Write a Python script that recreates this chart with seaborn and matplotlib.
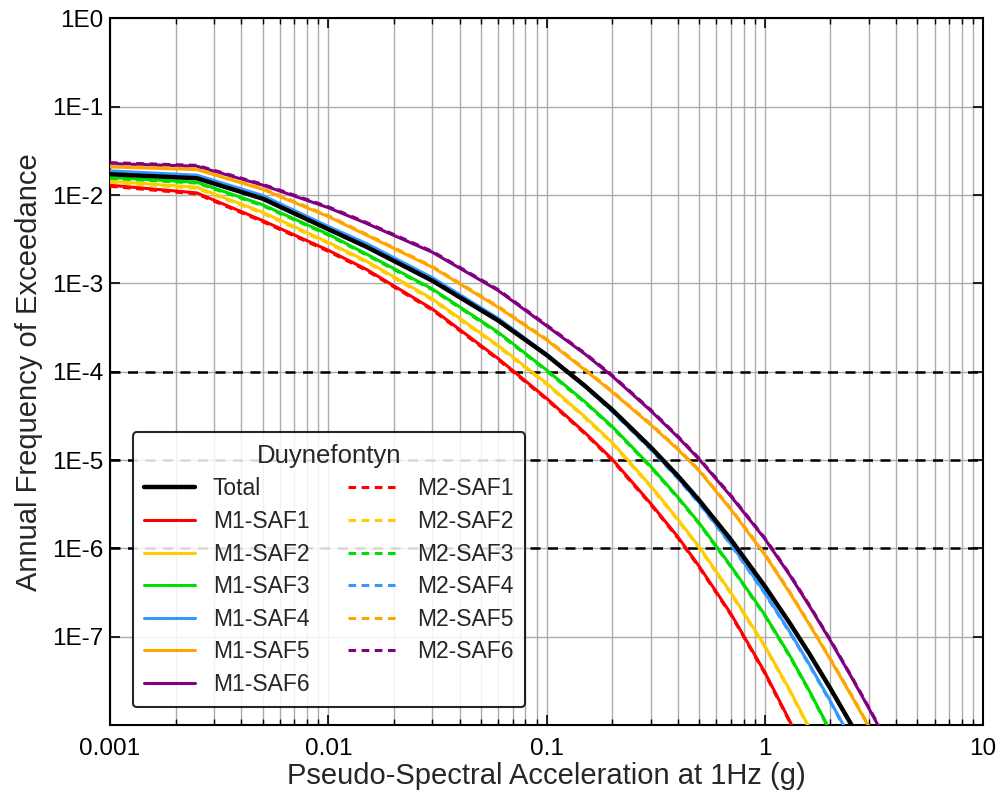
import numpy as np
import pandas as pd
import matplotlib
matplotlib.use("Agg")
import matplotlib.pyplot as plt
from matplotlib.ticker import FixedLocator, FixedFormatter, LogLocator, NullLocator
import seaborn as sns

# Pseudo-spectral acceleration levels (g)
psa = [0.001, 0.0025, 0.005, 0.01, 0.015, 0.03, 0.06, 0.1, 0.15, 0.2, 0.3,
       0.4, 0.5, 0.7, 1.0, 1.3, 1.6, 2.0, 2.5, 3.0, 4.0]

# log10 of the annual frequency of exceedance for each logic-tree branch
total_log10 = [-1.765, -1.810, -2.041, -2.387, -2.588, -2.970, -3.420, -3.810, -4.160, -4.430, -4.853,
               -5.179, -5.453, -5.901, -6.426, -6.843, -7.191, -7.586, -7.999, -8.350, -8.931]

m1_saf1_log10 = [-1.889, -1.976, -2.289, -2.625, -2.843, -3.290, -3.850, -4.300, -4.690, -4.990, -5.490,
                 -5.870, -6.200, -6.740, -7.400, -7.950, -8.405, -8.910, -9.430, -9.860, -10.550]
m1_saf2_log10 = [-1.844, -1.912, -2.194, -2.535, -2.749, -3.176, -3.702, -4.130, -4.510, -4.800, -5.290,
                 -5.670, -5.980, -6.500, -7.100, -7.600, -8.030, -8.510, -9.000, -9.410, -10.070]
m1_saf3_log10 = [-1.802, -1.855, -2.110, -2.443, -2.670, -3.063, -3.552, -3.980, -4.340, -4.620, -5.070,
                 -5.420, -5.710, -6.200, -6.750, -7.210, -7.610, -8.070, -8.560, -8.970, -9.620]
m1_saf4_log10 = [-1.727, -1.775, -2.005, -2.355, -2.550, -2.935, -3.395, -3.800, -4.160, -4.440, -4.870,
                 -5.200, -5.480, -5.950, -6.500, -6.940, -7.310, -7.730, -8.170, -8.540, -9.160]
m1_saf5_log10 = [-1.682, -1.712, -1.935, -2.244, -2.455, -2.818, -3.270, -3.640, -3.980, -4.230, -4.600,
                 -4.880, -5.120, -5.560, -6.070, -6.500, -6.860, -7.260, -7.670, -8.020, -8.620]
m1_saf6_log10 = [-1.644, -1.674, -1.888, -2.143, -2.322, -2.648, -3.080, -3.480, -3.800, -4.050, -4.440,
                 -4.740, -4.990, -5.410, -5.890, -6.300, -6.650, -7.045, -7.460, -7.810, -8.380]

m2_saf1_log10 = [-1.901, -1.988, -2.301, -2.637, -2.855, -3.302, -3.862, -4.312, -4.702, -5.002, -5.502,
                 -5.882, -6.212, -6.752, -7.412, -7.962, -8.417, -8.922, -9.442, -9.872, -10.562]
m2_saf2_log10 = [-1.856, -1.924, -2.206, -2.547, -2.761, -3.188, -3.714, -4.142, -4.522, -4.812, -5.302,
                 -5.682, -5.992, -6.512, -7.112, -7.612, -8.042, -8.522, -9.012, -9.422, -10.082]
m2_saf3_log10 = [-1.812, -1.865, -2.120, -2.453, -2.680, -3.073, -3.562, -3.990, -4.350, -4.630, -5.080,
                 -5.430, -5.720, -6.210, -6.760, -7.220, -7.620, -8.080, -8.570, -8.980, -9.630]
m2_saf4_log10 = [-1.737, -1.785, -2.015, -2.365, -2.560, -2.945, -3.405, -3.810, -4.170, -4.450, -4.880,
                 -5.210, -5.490, -5.960, -6.510, -6.950, -7.320, -7.740, -8.180, -8.550, -9.170]
m2_saf5_log10 = [-1.672, -1.702, -1.925, -2.234, -2.445, -2.808, -3.260, -3.630, -3.970, -4.220, -4.590,
                 -4.870, -5.110, -5.550, -6.060, -6.490, -6.850, -7.250, -7.660, -8.010, -8.610]
m2_saf6_log10 = [-1.634, -1.664, -1.878, -2.133, -2.312, -2.638, -3.070, -3.470, -3.790, -4.040, -4.430,
                 -4.730, -4.980, -5.400, -5.880, -6.290, -6.640, -7.035, -7.450, -7.800, -8.370]

saf_colors = ["#FF0000", "#FFCC00", "#00DD00", "#3399FF", "#FFA500", "#800080"]
m1_series = [m1_saf1_log10, m1_saf2_log10, m1_saf3_log10,
             m1_saf4_log10, m1_saf5_log10, m1_saf6_log10]
m2_series = [m2_saf1_log10, m2_saf2_log10, m2_saf3_log10,
             m2_saf4_log10, m2_saf5_log10, m2_saf6_log10]

x_ticks = [0.001, 0.01, 0.1, 1, 10]
x_tick_labels = ["0.001", "0.01", "0.1", "1", "10"]
y_ticks = [1e-7, 1e-6, 1e-5, 1e-4, 1e-3, 1e-2, 1e-1, 1e0]
y_tick_labels = ["1E-7", "1E-6", "1E-5", "1E-4", "1E-3", "1E-2", "1E-1", "1E0"]
reference_levels = [1e-4, 1e-5, 1e-6]

sns.set_style("ticks")
plt.rcParams["font.family"] = ["Liberation Sans", "DejaVu Sans"]

fig, ax = plt.subplots(figsize=(10, 7.96), dpi=100)
fig.subplots_adjust(left=0.110, right=0.983, top=0.977, bottom=0.089)

ax.set_xscale("log")
ax.set_yscale("log")


def afe(log_vals):
    return np.power(10.0, np.asarray(log_vals))


for i, (vals, col) in enumerate(zip(m1_series, saf_colors)):
    sns.lineplot(x=psa, y=afe(vals), ax=ax, color=col, lw=2.2,
                 label=f"M1-SAF{i + 1}", zorder=3)
for i, (vals, col) in enumerate(zip(m2_series, saf_colors)):
    sns.lineplot(x=psa, y=afe(vals), ax=ax, color=col, lw=2.2, ls=(0, (2.5, 1.8)),
                 label=f"M2-SAF{i + 1}", zorder=4)
sns.lineplot(x=psa, y=afe(total_log10), ax=ax, color="black", lw=3.2,
             label="Total", zorder=5)

for lvl in reference_levels:
    ax.axhline(lvl, color="black", lw=1.8, ls=(0, (4, 3)), zorder=2)

ax.set_xlim(0.001, 10)
ax.set_ylim(1e-8, 1e0)

ax.xaxis.set_major_locator(FixedLocator(x_ticks))
ax.xaxis.set_major_formatter(FixedFormatter(x_tick_labels))
ax.xaxis.set_minor_locator(LogLocator(base=10, subs=np.arange(2, 10)))
ax.yaxis.set_major_locator(FixedLocator(y_ticks))
ax.yaxis.set_major_formatter(FixedFormatter(y_tick_labels))
ax.yaxis.set_minor_locator(NullLocator())

ax.grid(True, which="major", axis="both", color="#ADADAD", lw=1.0, zorder=0)
ax.grid(True, which="minor", axis="x", color="#ADADAD", lw=1.0, zorder=0)
ax.set_axisbelow(True)

ax.tick_params(which="both", direction="in", top=True, right=True, colors="black")
ax.tick_params(which="major", length=7, width=1.2, labelsize=17.5)
ax.tick_params(axis="x", which="major", pad=9)
ax.tick_params(axis="y", which="major", pad=5)
ax.tick_params(which="minor", length=4, width=1.0)
for s in ax.spines.values():
    s.set_color("black")
    s.set_linewidth(1.5)

ax.set_xlabel("Pseudo-Spectral Acceleration at 1Hz (g)", fontsize=21, labelpad=2)
ax.set_ylabel("Annual Frequency of Exceedance", fontsize=21, labelpad=6)

h, l = ax.get_legend_handles_labels()
lookup = dict(zip(l, h))
order = ["Total"] + [f"M1-SAF{i}" for i in range(1, 7)] + [f"M2-SAF{i}" for i in range(1, 7)]
leg = ax.legend([lookup[k] for k in order], order, title="Duynefontyn", ncol=2,
                loc="lower left", bbox_to_anchor=(0.026, 0.025), borderaxespad=0,
                fontsize=16.5, title_fontsize=18.5, handlelength=2.2, handletextpad=0.8,
                columnspacing=1.7, labelspacing=0.42, borderpad=0.5, frameon=True,
                fancybox=True, framealpha=0.85, edgecolor="black")
leg.get_frame().set_linewidth(1.5)
leg.set_zorder(10)

fig.savefig("out.png", dpi=100)
